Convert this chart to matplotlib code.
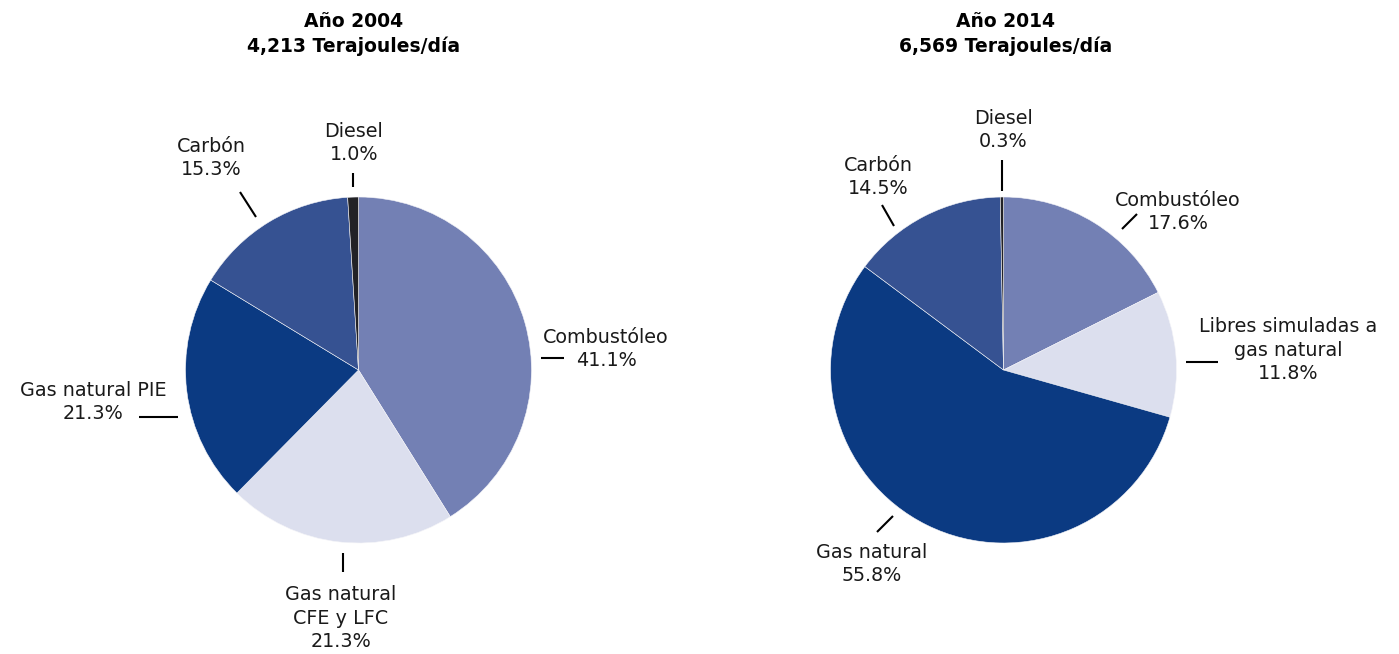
import matplotlib
matplotlib.use("Agg")
import matplotlib.pyplot as plt

# Combustibles para generación eléctrica, participación por año
fuels_2004 = ["Combustóleo", "Gas natural\nCFE y LFC", "Gas natural PIE", "Carbón", "Diesel"]
share_2004 = [41.1, 21.3, 21.3, 15.3, 1.0]
total_2004 = "4,213"

fuels_2014 = ["Combustóleo", "Libres simuladas a\ngas natural", "Gas natural", "Carbón", "Diesel"]
share_2014 = [17.6, 11.8, 55.8, 14.5, 0.3]
total_2014 = "6,569"

colors = ["#7380b4", "#dcdfee", "#0b3a82", "#365292", "#222226"]

W, H = 1399, 654
fig = plt.figure(figsize=(W / 100, H / 100), dpi=100)
ax = fig.add_axes([0, 0, 1, 1])

R = 173
centers = [(358.5, 370), (1003.5, 370)]

for (cx, cy), vals in zip(centers, [share_2004, share_2014]):
    wedges, _ = ax.pie(vals, colors=colors, startangle=90, counterclock=False,
                       center=(cx, cy), radius=R, frame=True,
                       wedgeprops=dict(linewidth=0.4, edgecolor="#f4f4f8"))
    # the y axis is inverted, so mirror each wedge vertically around the centre
    for w in wedges:
        w.set_transform(matplotlib.transforms.Affine2D()
                        .translate(-cx, -cy).scale(1, -1).translate(cx, cy)
                        + ax.transData)

ax.set_xlim(0, W)
ax.set_ylim(H, 0)
ax.set_aspect("equal")
ax.axis("off")

title_kw = dict(ha="center", va="center", fontsize=13.5, fontweight="heavy",
                family="DejaVu Sans", linespacing=1.4)
ax.text(354, 34, f"Año 2004\n{total_2004} Terajoules/día", **title_kw)
ax.text(1006, 34, f"Año 2014\n{total_2014} Terajoules/día", **title_kw)

lab_kw = dict(ha="center", va="center", fontsize=13.8, color="#1a1a1a",
              linespacing=1.33)

def label(x, y, name, val, line):
    ax.text(x, y, f"{name}\n{val:.1f}%", **lab_kw)
    (x0, y0), (x1, y1) = line
    ax.plot([x0, x1], [y0, y1], color="black", lw=1.5, solid_capstyle="butt")

# 2004
label(606, 349, fuels_2004[0], share_2004[0], ((541, 358), (564, 358)))
label(341, 618, fuels_2004[1], share_2004[1], ((343, 553), (343, 572)))
label(93, 402, fuels_2004[2], share_2004[2], ((139, 417), (178, 417)))
label(211, 158, fuels_2004[3], share_2004[3], ((240, 192), (256, 217)))
label(354, 143, fuels_2004[4], share_2004[4], ((353, 173), (353, 187)))

# 2014
label(1178, 212, fuels_2014[0], share_2014[0], ((1122, 229), (1137, 214)))
label(1288, 350, fuels_2014[1], share_2014[1], ((1186, 362), (1218, 362)))
label(872, 564, fuels_2014[2], share_2014[2], ((877, 532), (893, 516)))
label(878, 177, fuels_2014[3], share_2014[3], ((882, 205), (894, 226)))
label(1003, 130, fuels_2014[4], share_2014[4], ((1002, 160), (1002, 191)))

fig.savefig("out.png", dpi=100, facecolor="white")
